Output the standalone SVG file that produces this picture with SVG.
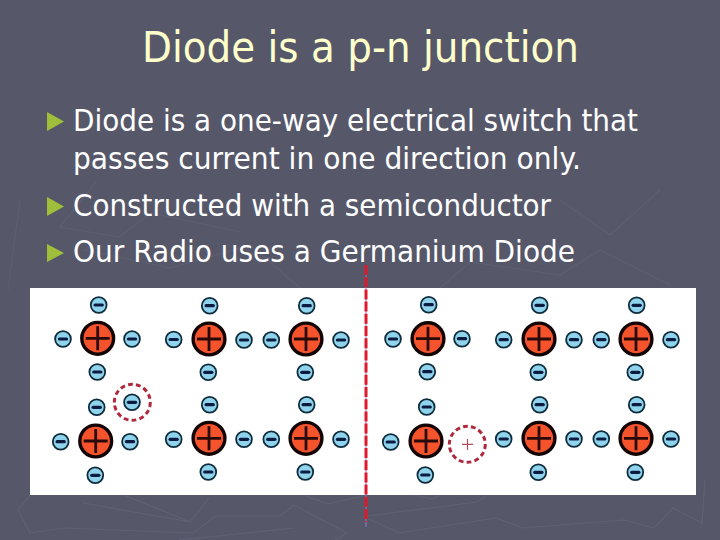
<svg xmlns="http://www.w3.org/2000/svg" width="720" height="540" viewBox="0 0 720 540">
<style>
text{font-family:"DejaVu Sans","Noto Sans",sans-serif}
.t{fill:#ffffcc;font-size:42.5px}
.b{fill:#fff;font-size:29.5px}
.bul{fill:#9fbf3b}
.bg{fill:none;stroke:#62657a;stroke-width:1.1;opacity:.7}
.bf{fill:none;stroke:#5c5f72;stroke-width:1.1}
.atom circle{fill:#f4532c;stroke:#120404;stroke-width:3.4}
.atom path{fill:none;stroke:#2a0a08;stroke-width:2.8}
.e circle{fill:#8fd3ec;stroke:#0f2c3c;stroke-width:1.8}
.e path{stroke:#0c1c40;stroke-width:3.2;stroke-linecap:round}
.ring{fill:none;stroke:#b0283c;stroke-width:3;stroke-dasharray:4.8 3.2}
</style>
<defs>
<g id="el" class="e"><circle r="7.9"/><path d="M-3.6 0H3.6"/></g>
<g id="at" class="atom"><circle r="15.9"/><path d="M-12 0H12M0-12V12"/></g>
</defs>
<rect width="720" height="540" fill="#56586a"/>
<g id="background">
<path class="bg" d="M30 495L18 510L30 533L64 528L193 533L216 516L280 516L294 505L347 533L335 540M179 540L294 528M83 503L190 522L209 498M124 495L190 522M303 495L328 504L367 495M367 516L477 502L487 495M367 518L399 533L496 518L523 528L624 520L654 528L673 508L702 523L705 480M413 495L432 499L441 495"/>
<path class="bf" d="M20 200L8 290M96 182L60 227L119 237L151 213L240 232M85 250L170 268L250 245L300 288M440 288L470 262L560 275L600 250L670 285M560 200L610 235L660 190"/>
</g>
<text class="t" x="142" y="62" textLength="437" lengthAdjust="spacingAndGlyphs">Diode is a p-n junction</text>
<g id="bullets">
<path class="bul" d="M47 112L64 121.5L47 131Z"/>
<path class="bul" d="M47 197L64 206.5L47 216Z"/>
<path class="bul" d="M47 244L64 253L47 262Z"/>
<text class="b" x="73" y="131" textLength="565" lengthAdjust="spacingAndGlyphs">Diode is a one-way electrical switch that</text>
<text class="b" x="73" y="169" textLength="508" lengthAdjust="spacingAndGlyphs">passes current in one direction only.</text>
<text class="b" x="73" y="216" textLength="478" lengthAdjust="spacingAndGlyphs">Constructed with a semiconductor</text>
<text class="b" x="73" y="262" textLength="502" lengthAdjust="spacingAndGlyphs">Our Radio uses a Germanium Diode</text>
</g>
<rect id="panel" x="30" y="288" width="666" height="207" fill="#fff"/>
<g id="connectors">
<path d="M366 265V527" stroke="#8a7ac8" stroke-width="1" fill="none"/>
<path d="M366 265V522" stroke="#e0182c" stroke-width="3" stroke-dasharray="10 2.2" fill="none"/>
</g>
<g id="atom-l1"><use href="#at" x="97.7" y="338.3"/><use href="#el" x="98.7" y="305"/><use href="#el" x="63" y="339"/><use href="#el" x="132" y="339"/><use href="#el" x="97.3" y="372"/></g>
<g id="atom-l2"><use href="#at" x="209" y="339"/><use href="#el" x="209.7" y="305.7"/><use href="#el" x="173.7" y="339.5"/><use href="#el" x="244" y="340"/><use href="#el" x="208.3" y="372.3"/></g>
<g id="atom-l3"><use href="#at" x="306" y="339"/><use href="#el" x="306.7" y="305.7"/><use href="#el" x="271.3" y="340"/><use href="#el" x="341" y="340"/><use href="#el" x="305.3" y="372.3"/></g>
<g id="atom-l4"><use href="#at" x="95.7" y="441"/><use href="#el" x="96.7" y="407.3"/><use href="#el" x="60.7" y="441.7"/><use href="#el" x="130" y="441.7"/><use href="#el" x="95.3" y="475.3"/></g>
<g id="atom-l5"><use href="#at" x="209" y="438.3"/><use href="#el" x="209.7" y="404.7"/><use href="#el" x="173.7" y="439.3"/><use href="#el" x="244" y="439.3"/><use href="#el" x="208.3" y="472"/></g>
<g id="atom-l6"><use href="#at" x="306" y="438.3"/><use href="#el" x="306.7" y="404.7"/><use href="#el" x="271.3" y="439.3"/><use href="#el" x="341" y="439.3"/><use href="#el" x="305.3" y="472"/></g>
<g id="free-electron"><circle class="ring" cx="132.3" cy="402.3" r="18"/><use href="#el" x="132" y="402.3"/></g>
<g id="atom-r1"><use href="#at" x="428" y="338.7"/><use href="#el" x="428.7" y="304.7"/><use href="#el" x="393" y="339"/><use href="#el" x="462" y="338.7"/><use href="#el" x="427.3" y="371.7"/></g>
<g id="atom-r2"><use href="#at" x="539" y="339"/><use href="#el" x="539.7" y="305.3"/><use href="#el" x="503.7" y="339.7"/><use href="#el" x="574" y="339.7"/><use href="#el" x="538.3" y="372.3"/></g>
<g id="atom-r3"><use href="#at" x="636" y="339"/><use href="#el" x="636.7" y="305.3"/><use href="#el" x="601.3" y="339.7"/><use href="#el" x="671" y="339.7"/><use href="#el" x="635.3" y="372.3"/></g>
<g id="atom-r4"><use href="#at" x="426" y="441"/><use href="#el" x="426.7" y="407"/><use href="#el" x="390.7" y="442"/><use href="#el" x="425.3" y="475"/></g>
<g id="atom-r5"><use href="#at" x="539" y="438.3"/><use href="#el" x="539.7" y="404.7"/><use href="#el" x="503.7" y="439"/><use href="#el" x="574" y="439"/><use href="#el" x="538.3" y="472.3"/></g>
<g id="atom-r6"><use href="#at" x="636" y="438.3"/><use href="#el" x="636.7" y="404.7"/><use href="#el" x="601.3" y="439"/><use href="#el" x="671" y="439"/><use href="#el" x="635.3" y="472.3"/></g>
<g id="hole"><circle class="ring" cx="467.3" cy="444.3" r="18"/><path d="M462 444.3H473M467.5 439V450" stroke="#b05060" stroke-width="1.2" fill="none"/></g>
</svg>
